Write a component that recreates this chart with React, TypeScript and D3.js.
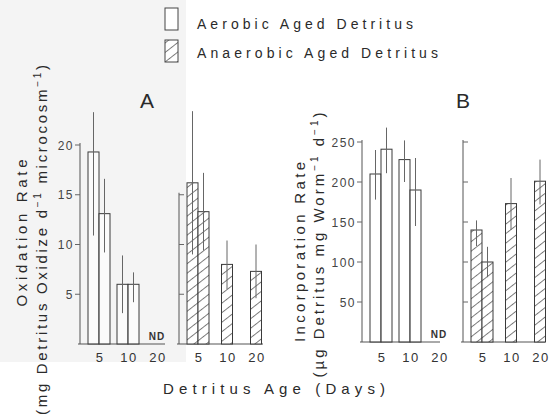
import React, { useRef, useEffect } from "react";
import { select, scaleBand, scaleLinear } from "d3";

const ages = ["5", "10", "20"];

// Panel A - oxidation rate (mg detritus oxidized / d / microcosm)
const oxAerobic = [
  { age: "5", value: 19.3, lo: 10.9, hi: 23.3 },
  { age: "5", value: 13.1, lo: 9.2, hi: 16.6 },
  { age: "10", value: 6.0, lo: 3.1, hi: 8.9 },
  { age: "10", value: 6.0, lo: 4.2, hi: 7.2 },
];
const oxAnaerobic = [
  { age: "5", value: 16.2, lo: 9.0, hi: 23.4 },
  { age: "5", value: 13.3, lo: 9.4, hi: 17.2 },
  { age: "10", value: 8.0, lo: 5.5, hi: 10.4 },
  { age: "20", value: 7.3, lo: 4.6, hi: 10.0 },
];

// Panel B - incorporation rate (ug detritus / mg worm / d)
const incAerobic = [
  { age: "5", value: 210, lo: 178, hi: 240 },
  { age: "5", value: 241, lo: 211, hi: 268 },
  { age: "10", value: 228, lo: 200, hi: 252 },
  { age: "10", value: 190, lo: 145, hi: 230 },
];
const incAnaerobic = [
  { age: "5", value: 140, lo: 120, hi: 152 },
  { age: "5", value: 100, lo: 81, hi: 119 },
  { age: "10", value: 173, lo: 140, hi: 205 },
  { age: "20", value: 201, lo: 172, hi: 228 },
];

const oxTicks = [5, 10, 15, 20];
const incTicks = [50, 100, 150, 200, 250];
const notDetermined = ["20"]; // aerobic 20 day: ND

const FONT = "'Liberation Sans', Arial, sans-serif";
const INK = "#2a2a2a";

function App() {
  const chartRef = useRef(null);

  useEffect(() => {
    document.body.style.margin = "0";
    const root = select(chartRef.current);
    root.selectAll("*").remove();

    const svg = root
      .append("svg")
      .attr("width", 560)
      .attr("height", 418)
      .style("display", "block")
      .style("font-family", FONT);

    svg.append("rect").attr("width", 560).attr("height", 418).attr("fill", "#fff");
    // faint scan shading on the left
    svg.append("rect").attr("width", 186).attr("height", 362).attr("fill", "#f4f4f4");

    const pat = svg
      .append("defs")
      .append("pattern")
      .attr("id", "hatch")
      .attr("patternUnits", "userSpaceOnUse")
      .attr("width", 8)
      .attr("height", 7.5)
      .attr("patternTransform", "rotate(-38)");
    pat.append("rect").attr("width", 8).attr("height", 7.5).attr("fill", "#fff");
    pat
      .append("line")
      .attr("x1", 0)
      .attr("y1", 0.5)
      .attr("x2", 8)
      .attr("y2", 0.5)
      .attr("stroke", "#555")
      .attr("stroke-width", 0.8);

    const yOx = scaleLinear().domain([0, 20]).range([344, 145]);
    const yInc = scaleLinear().domain([0, 250]).range([342, 142]);

    const drawPanel = (x0, data, y, ticks, labelled, hatched, baseLen, nd) => {
      const g = svg.append("g");
      const x = scaleBand().domain(ages).range([x0 + 4.5, x0 + 91.5]).padding(0);
      const bw = 11;
      const top = y(ticks[ticks.length - 1]) - 2;

      // axis line + baseline
      g.append("line")
        .attr("x1", x0).attr("x2", x0)
        .attr("y1", y(0)).attr("y2", top)
        .attr("stroke", "#555").attr("stroke-width", 1);
      g.append("line")
        .attr("x1", x0 - 2).attr("x2", x0 + baseLen)
        .attr("y1", y(0)).attr("y2", y(0))
        .attr("stroke", "#555").attr("stroke-width", 1);

      g.selectAll(".tick")
        .data(ticks)
        .enter()
        .append("line")
        .attr("x1", labelled ? x0 - 5 : x0)
        .attr("x2", labelled ? x0 : x0 + 5)
        .attr("y1", (d) => y(d))
        .attr("y2", (d) => y(d))
        .attr("stroke", "#666");

      if (labelled) {
        g.selectAll(".tl")
          .data(ticks)
          .enter()
          .append("text")
          .attr("x", x0 - 6)
          .attr("y", (d) => y(d) + 4.5)
          .attr("text-anchor", "end")
          .attr("font-size", 12)
          .attr("letter-spacing", 1.5)
          .attr("fill", "#444")
          .text((d) => d);
      }

      // bars, side by side within each age
      const bars = data.map((d) => {
        const same = data.filter((e) => e.age === d.age);
        const i = same.indexOf(d);
        const cx = x(d.age) + x.bandwidth() / 2;
        return { ...d, x: cx - (same.length * bw) / 2 + i * bw };
      });

      g.selectAll(".bar")
        .data(bars)
        .enter()
        .append("rect")
        .attr("x", (d) => d.x)
        .attr("y", (d) => y(d.value))
        .attr("width", bw)
        .attr("height", (d) => y(0) - y(d.value))
        .attr("fill", hatched ? "url(#hatch)" : "#fff")
        .attr("fill-opacity", hatched ? 1 : 0.6)
        .attr("stroke", "#3a3a3a")
        .attr("stroke-width", 1);

      g.selectAll(".err")
        .data(bars)
        .enter()
        .append("line")
        .attr("x1", (d) => d.x + bw / 2)
        .attr("x2", (d) => d.x + bw / 2)
        .attr("y1", (d) => y(d.lo))
        .attr("y2", (d) => y(d.hi))
        .attr("stroke", "#666")
        .attr("stroke-width", 1);

      g.selectAll(".xl")
        .data(ages)
        .enter()
        .append("text")
        .attr("x", (d) => x(d) + x.bandwidth() / 2 + 1)
        .attr("y", 362)
        .attr("text-anchor", "middle")
        .attr("font-size", 13)
        .attr("letter-spacing", 1.5)
        .attr("fill", "#333")
        .text((d) => d);

      g.selectAll(".nd")
        .data(nd)
        .enter()
        .append("text")
        .attr("x", (d) => x(d) + x.bandwidth() / 2)
        .attr("y", y(0) - 4)
        .attr("text-anchor", "middle")
        .attr("font-size", 10)
        .attr("font-weight", "bold")
        .attr("letter-spacing", 1)
        .attr("fill", "#333")
        .text("ND");
    };

    drawPanel(80, oxAerobic, yOx, oxTicks, true, false, 85, notDetermined);
    drawPanel(179, oxAnaerobic, yOx, oxTicks.slice(0, 3), false, true, 84, []);
    drawPanel(362, incAerobic, yInc, incTicks, true, false, 78, notDetermined);
    drawPanel(463, incAnaerobic, yInc, incTicks, false, true, 82, []);

    // panel letters
    [["A", 147], ["B", 463]].forEach(([t, px]) =>
      svg.append("text")
        .attr("x", px).attr("y", 108)
        .attr("text-anchor", "middle")
        .attr("font-size", 21)
        .attr("fill", INK)
        .text(t)
    );

    // legend
    const legend = [["Aerobic Aged Detritus", false, 216], ["Anaerobic Aged Detritus", true, 241]];
    legend.forEach(([label, h, len], i) => {
      svg.append("rect")
        .attr("x", 165).attr("y", 8 + i * 32)
        .attr("width", 13).attr("height", 22)
        .attr("fill", h ? "url(#hatch)" : "#fff")
        .attr("stroke", "#444").attr("stroke-width", 1);
      svg.append("text")
        .attr("x", 197).attr("y", 29 + i * 28.5)
        .attr("font-size", 14)
        .attr("textLength", len)
        .attr("lengthAdjust", "spacing")
        .attr("fill", INK)
        .text(label);
    });

    // axis titles (rotated), stretched to the scan's widths
    const vTitle = (cx, cy, len, parts) => {
      const t = svg.append("text")
        .attr("transform", `translate(${cx},${cy}) rotate(-90)`)
        .attr("text-anchor", "middle")
        .attr("font-size", 15)
        .attr("textLength", len)
        .attr("lengthAdjust", "spacing")
        .attr("fill", INK);
      let shift = 0;
      parts.forEach(([s, sup]) => {
        const dy = sup ? -6 - shift : -shift;
        shift = sup ? -6 : 0;
        t.append("tspan")
          .attr("dy", dy)
          .attr("font-size", sup ? 10 : 15)
          .text(s);
      });
    };
    vTitle(27, 233, 147, [["Oxidation Rate"]]);
    vTitle(47, 240, 350, [["(mg Detritus Oxidize d"], ["\u22121", true], [" microcosm"], ["\u22121", true], [")"]]);
    vTitle(305, 252, 180, [["Incorporation Rate"]]);
    vTitle(324, 245, 265, [["(\u00b5g Detritus mg Worm"], ["\u22121", true], [" d"], ["\u22121", true], [")"]]);

    svg.append("text")
      .attr("x", 274).attr("y", 394)
      .attr("text-anchor", "middle")
      .attr("font-size", 15)
      .attr("textLength", 222)
      .attr("lengthAdjust", "spacing")
      .attr("fill", INK)
      .text("Detritus Age (Days)");
  }, []);

  return <div ref={chartRef}></div>;
}

export default App;
